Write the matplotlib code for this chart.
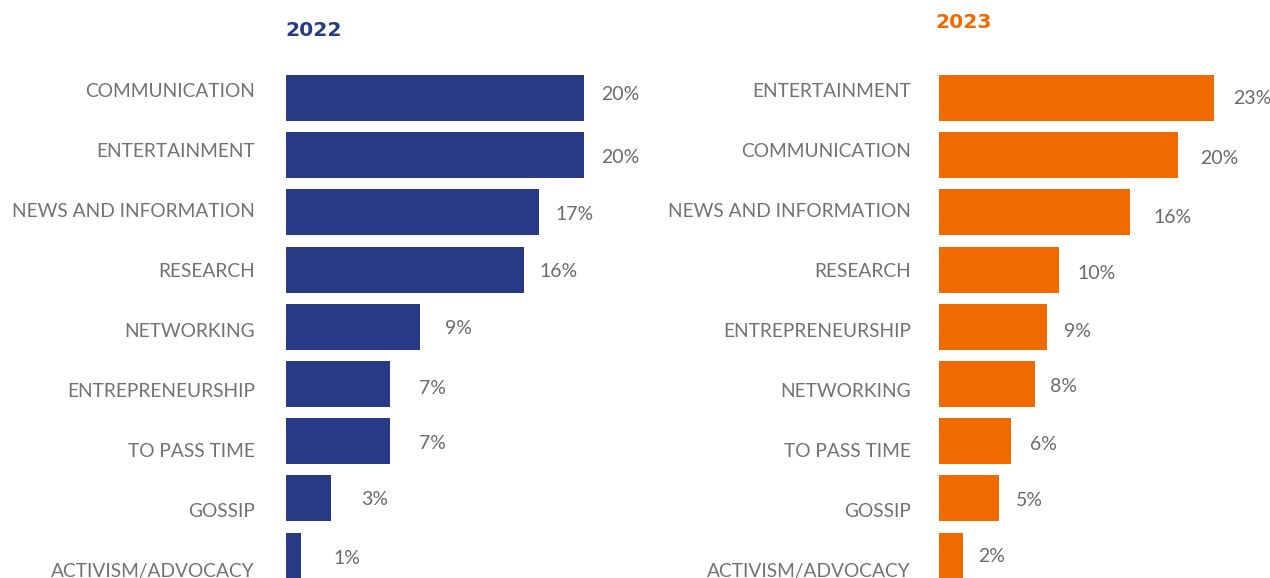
import matplotlib
matplotlib.use("Agg")
import matplotlib.pyplot as plt
from matplotlib.transforms import blended_transform_factory

# Reasons for using social media, share of respondents (%)
cats_2022 = ["COMMUNICATION", "ENTERTAINMENT", "NEWS AND INFORMATION", "RESEARCH",
             "NETWORKING", "ENTREPRENEURSHIP", "TO PASS TIME", "GOSSIP",
             "ACTIVISM/ADVOCACY"]
vals_2022 = [20, 20, 17, 16, 9, 7, 7, 3, 1]

cats_2023 = ["ENTERTAINMENT", "COMMUNICATION", "NEWS AND INFORMATION", "RESEARCH",
             "ENTREPRENEURSHIP", "NETWORKING", "TO PASS TIME", "GOSSIP",
             "ACTIVISM/ADVOCACY"]
vals_2023 = [23, 20, 16, 10, 9, 8, 6, 5, 2]

title_2022 = "2022"
title_2023 = "2023"

NAVY = "#283a86"
ORANGE = "#f06a00"
LABEL_GREY = "#727272"
VALUE_GREY = "#6a6a6a"

W, H = 1270, 578
fig = plt.figure(figsize=(W / 100, H / 100), dpi=100)
fig.patch.set_facecolor("white")

ROW = 57.2        # pixel pitch between bars
TOP = 98 - ROW / 2  # pixel y of the top edge of the first row


def make_axes(left_px, px_per_unit, xmax):
    width_px = px_per_unit * xmax
    height_px = H - TOP
    ax = fig.add_axes([left_px / W, 0, width_px / W, height_px / H])
    ax.set_xlim(0, xmax)
    ax.set_ylim(-0.5 + height_px / ROW, -0.5)
    ax.axis("off")
    return ax


def draw_panel(ax, cats, vals, color, label_right_px, gaps, dys,
               title, title_x_px, title_y_px):
    n = len(vals)
    ax.barh(range(n), vals, height=0.805, color=color, linewidth=0)
    trans = blended_transform_factory(fig.transFigure, ax.transData)
    # category labels sit on a slightly wider pitch than the bars
    for i, c in enumerate(cats):
        y_px = 91.5 + 60 * i
        ax.text(label_right_px / W, (y_px - 98) / ROW, c, transform=trans,
                ha="right", va="center", fontsize=13.8, color=LABEL_GREY,
                family="Lato", fontweight="normal")
    for i, v in enumerate(vals):
        ax.annotate(f"{v}%", xy=(v, i), xytext=(gaps[i] * 0.72, -dys[i] * 0.72),
                    textcoords="offset points", ha="left", va="center",
                    fontsize=14, color=VALUE_GREY, family="Lato",
                    fontweight="normal", annotation_clip=False)
    fig.text(title_x_px / W, 1 - title_y_px / H, title, ha="left", va="center",
             fontsize=14.6, fontweight="bold", family="DejaVu Sans", color=color)


ax1 = make_axes(286, 14.9, 25)
ax2 = make_axes(939, 11.95, 27)

draw_panel(ax1, cats_2022, vals_2022, NAVY, 255,
           gaps=[17, 17, 16, 15, 25, 29, 29, 30, 33],
           dys=[-4, 2, 2, 2, 2, 5, 2, 1, 3],
           title=title_2022, title_x_px=285, title_y_px=31)
draw_panel(ax2, cats_2023, vals_2023, ORANGE, 911,
           gaps=[19, 22, 23, 19, 17, 15, 19, 17, 15],
           dys=[1, 3, 5, 4, 5, 2, 3, 2, 1],
           title=title_2023, title_x_px=935, title_y_px=22)

fig.savefig("out.png", dpi=100, facecolor="white")
